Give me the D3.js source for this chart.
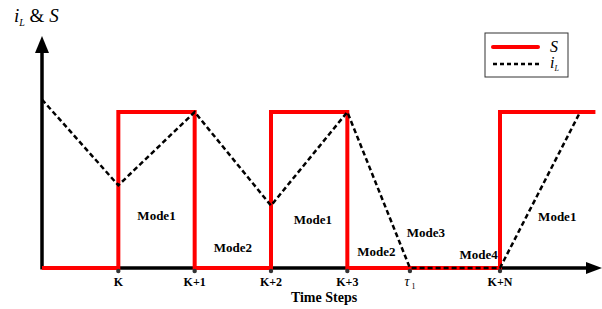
<!DOCTYPE html>
<html>
<head>
<meta charset="utf-8">
<script src="https://cdn.jsdelivr.net/npm/d3@7"></script>
<style>
  body { margin: 0; background: #fff; }
  svg text { font-family: "Liberation Serif", "DejaVu Serif", serif; }
</style>
</head>
<body>
<div id="chart"></div>
<script>
// time steps (K = 0)
var tickSteps = [0, 1, 2, 3, 3.82, 5];
var tickLabels = ["K", "K+1", "K+2", "K+3", "τ1", "K+N"];

// switch signal S
var sT = [-1, 0, 0, 1, 1, 2, 2, 3, 3, 5, 5, 6.25];
var sV = [0, 0, 1, 1, 0, 0, 1, 1, 0, 0, 1, 1];

// inductor current iL
var iT = [-1, 0, 1, 2, 3, 3.82, 5, 6.05];
var iV = [1.08, 0.53, 1.0, 0.40, 1.0, 0, 0, 1.0];

// mode labels
var modeNames = ["Mode1", "Mode2", "Mode1", "Mode2", "Mode3", "Mode4", "Mode1"];
var modeT = [0.5, 1.5, 2.55, 3.38, 4.03, 4.72, 5.75];
var modeV = [0.31, 0.1, 0.28, 0.08, 0.2, 0.06, 0.3];

var W = 602, H = 309;
var svg = d3.select("#chart").append("svg").attr("width", W).attr("height", H);

var x = d3.scaleLinear().domain([-1, 5]).range([42, 500]);
var y = d3.scaleLinear().domain([0, 1]).range([268, 112]);

var serif = "'Liberation Serif', 'DejaVu Serif', serif";

// axes with arrows
svg.append("line").attr("x1", x(-1)).attr("y1", y(0)).attr("x2", 588).attr("y2", y(0))
    .attr("stroke", "#000").attr("stroke-width", 3.5);
svg.append("path").attr("d", "M586," + (y(0) - 6) + " L602," + y(0) + " L586," + (y(0) + 6) + " Z").attr("fill", "#000");
svg.append("line").attr("x1", x(-1)).attr("y1", y(0) + 1.5).attr("x2", x(-1)).attr("y2", 50)
    .attr("stroke", "#000").attr("stroke-width", 3.5);
svg.append("path").attr("d", "M" + (x(-1) - 7) + ",53 L" + x(-1) + ",36 L" + (x(-1) + 7) + ",53 Z").attr("fill", "#000");

// S line
var sLine = d3.line().x(function (d, i) { return x(sT[i]); }).y(function (d) { return y(d); });
svg.append("path").attr("d", sLine(sV)).attr("fill", "none")
    .attr("stroke", "#ff0000").attr("stroke-width", 4);

// iL line
var iLine = d3.line().x(function (d, i) { return x(iT[i]); }).y(function (d) { return y(d); });
svg.append("path").attr("d", iLine(iV)).attr("fill", "none")
    .attr("stroke", "#000").attr("stroke-width", 2.5).attr("stroke-dasharray", "5,3");

// tick dots and labels
svg.selectAll(".tickDot").data(tickSteps).enter().append("circle")
    .attr("cx", function (d) { return x(d); }).attr("cy", y(0) + 3).attr("r", 2.2).attr("fill", "#333");
svg.selectAll(".tickLabel").data(tickSteps).enter().append("text")
    .attr("font-family", serif)
    .attr("x", function (d) { return x(d); }).attr("y", 286)
    .attr("text-anchor", "middle").attr("font-size", 12).attr("font-weight", "bold")
    .each(function (d, i) {
        var t = d3.select(this);
        if (tickLabels[i] === "τ1") {
            t.attr("font-weight", "normal").attr("font-style", "italic").attr("font-size", 14).text("τ");
            t.append("tspan").attr("font-size", 8).attr("dy", 3).attr("dx", 2).attr("font-style", "normal").text("1");
        } else {
            t.text(tickLabels[i]);
        }
    });

svg.append("text").attr("font-family", serif).attr("x", 324).attr("y", 302).attr("text-anchor", "middle")
    .attr("font-size", 14).attr("font-weight", "bold").text("Time Steps");

// mode labels
svg.selectAll(".mode").data(modeNames).enter().append("text")
    .attr("font-family", serif)
    .attr("x", function (d, i) { return x(modeT[i]); })
    .attr("y", function (d, i) { return y(modeV[i]); })
    .attr("text-anchor", "middle").attr("font-size", 13).attr("font-weight", "bold")
    .text(function (d) { return d; });

// y title
var yt = svg.append("text").attr("font-family", serif).attr("x", 14).attr("y", 22).attr("font-size", 19).attr("font-style", "italic");
yt.append("tspan").text("i");
yt.append("tspan").attr("font-size", 10).attr("dy", 4).text("L");
yt.append("tspan").attr("dy", -4).attr("font-style", "normal").text(" & ");
yt.append("tspan").text("S");

// legend
var lg = svg.append("g");
lg.append("rect").attr("x", 485).attr("y", 33).attr("width", 83).attr("height", 44)
    .attr("fill", "#fff").attr("stroke", "#333").attr("stroke-width", 1);
lg.append("line").attr("x1", 493).attr("x2", 538).attr("y1", 47).attr("y2", 47)
    .attr("stroke", "#ff0000").attr("stroke-width", 4).attr("stroke-linecap", "round");
lg.append("line").attr("x1", 493).attr("x2", 540).attr("y1", 64).attr("y2", 64)
    .attr("stroke", "#000").attr("stroke-width", 2.5).attr("stroke-dasharray", "4,3");
lg.append("text").attr("font-family", serif).attr("x", 550).attr("y", 52).attr("font-size", 16).attr("font-style", "italic").text("S");
var li = lg.append("text").attr("font-family", serif).attr("x", 550).attr("y", 68).attr("font-size", 16).attr("font-style", "italic");
li.append("tspan").text("i");
li.append("tspan").attr("font-size", 8).attr("dy", 3).text("L");
</script>
</body>
</html>
